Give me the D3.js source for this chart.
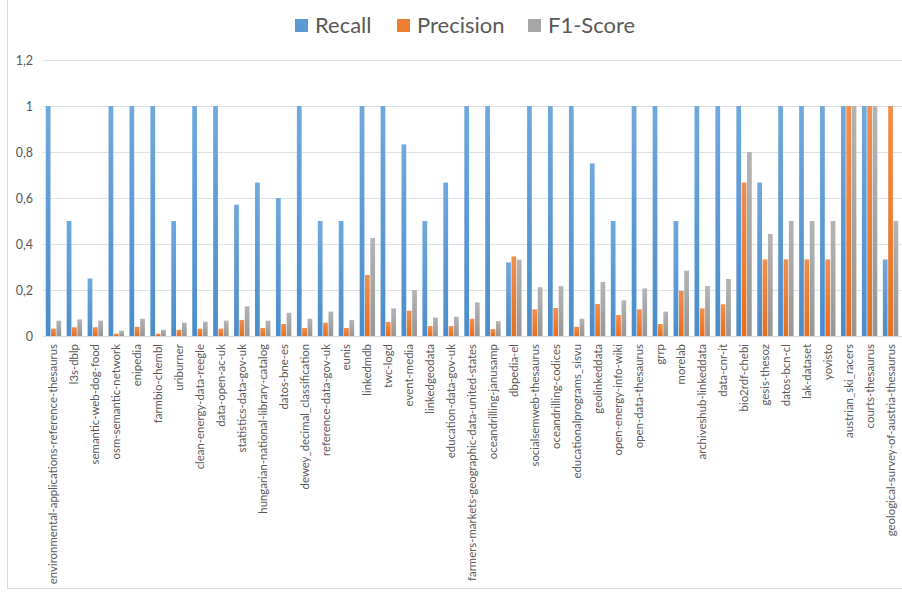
<!DOCTYPE html>
<html>
<head>
<meta charset="utf-8">
<script src="https://cdn.jsdelivr.net/npm/d3@7"></script>
<style>
  html, body { margin: 0; padding: 0; background: #fff; }
  svg { display: block; }
</style>
</head>
<body>
<svg id="chart" width="902" height="596"></svg>
<script>
const categories = [
  "environmental-applications-reference-thesaurus", "l3s-dblp", "semantic-web-dog-food",
  "osm-semantic-network", "enipedia", "farmbio-chembl", "uriburner", "clean-energy-data-reegle",
  "data-open-ac-uk", "statistics-data-gov-uk", "hungarian-national-library-catalog", "datos-bne-es",
  "dewey_decimal_classification", "reference-data-gov-uk", "eunis", "linkedmdb", "twc-logd",
  "event-media", "linkedgeodata", "education-data-gov-uk",
  "farmers-markets-geographic-data-united-states", "oceandrilling-janusamp", "dbpedia-el",
  "socialsemweb-thesaurus", "oceandrilling-codices", "educationalprograms_sisvu", "geolinkeddata",
  "open-energy-info-wiki", "open-data-thesaurus", "grrp", "morelab", "archiveshub-linkeddata",
  "data-cnr-it", "bio2rdf-chebi", "gesis-thesoz", "datos-bcn-cl", "lak-dataset", "yovisto",
  "austrian_ski_racers", "courts-thesaurus", "geological-survey-of-austria-thesaurus"
];
const seriesNames = ["Recall", "Precision", "F1-Score"];
const recall = [1, 0.5, 0.25, 1, 1, 1, 0.5, 1, 1, 0.571, 0.667, 0.6, 1, 0.5, 0.5, 1, 1, 0.833, 0.5, 0.667,
  1, 1, 0.32, 1, 1, 1, 0.75, 0.5, 1, 1, 0.5, 1, 1, 1, 0.667, 1, 1, 1, 1, 1, 0.333];
const precision = [0.032, 0.038, 0.038, 0.01, 0.04, 0.01, 0.027, 0.032, 0.032, 0.07, 0.035, 0.052, 0.035,
  0.058, 0.035, 0.265, 0.061, 0.11, 0.043, 0.043, 0.075, 0.03, 0.346, 0.116, 0.122, 0.04, 0.139,
  0.091, 0.116, 0.052, 0.196, 0.12, 0.138, 0.667, 0.333, 0.333, 0.333, 0.333, 1, 1, 1];
const f1 = [0.067, 0.072, 0.067, 0.023, 0.075, 0.027, 0.058, 0.062, 0.067, 0.129, 0.067, 0.101, 0.075,
  0.106, 0.07, 0.426, 0.12, 0.2, 0.08, 0.084, 0.146, 0.065, 0.332, 0.212, 0.217, 0.075, 0.235,
  0.155, 0.207, 0.106, 0.284, 0.217, 0.248, 0.8, 0.444, 0.5, 0.5, 0.5, 1, 1, 0.5];
const yTicks = [0, 0.2, 0.4, 0.6, 0.8, 1, 1.2];
const tickLabels = ["0", "0,2", "0,4", "0,6", "0,8", "1", "1,2"];
const seriesValues = [recall, precision, f1];

const colors = ["#5B9BD5", "#ED7D31", "#A5A5A5"];
const colorsTop = ["#6FA9DE", "#F28F4E", "#B4B4B4"];
const colorsBot = ["#4A8CCB", "#E56F1F", "#979797"];

const svg = d3.select("#chart");
const font = "Lato, 'Open Sans', sans-serif";

// outer chart border
svg.append("rect").attr("x", 7.5).attr("y", -5).attr("width", 1000).attr("height", 598.5 - 5)
  .attr("fill", "none").attr("stroke", "#D9D9D9").attr("stroke-width", 1);

const defs = svg.append("defs");
seriesNames.forEach((s, i) => {
  const g = defs.append("linearGradient").attr("id", "grad" + i)
    .attr("x1", 0).attr("y1", 0).attr("x2", 0).attr("y2", 1);
  g.append("stop").attr("offset", "0%").attr("stop-color", colorsTop[i]);
  g.append("stop").attr("offset", "100%").attr("stop-color", colorsBot[i]);
});

const y = d3.scaleLinear().domain([0, 1.2]).range([336, 60]);
const x0 = d3.scaleBand().domain(categories).range([43, 901]).paddingInner(0.235).paddingOuter(0.1175);
const x1 = d3.scaleBand().domain(seriesNames).range([0, x0.bandwidth()]);

// gridlines
svg.append("g").selectAll("line").data(yTicks).join("line")
  .attr("x1", 43).attr("x2", 902)
  .attr("y1", d => Math.round(y(d)) + 0.5).attr("y2", d => Math.round(y(d)) + 0.5)
  .attr("stroke", "#DCE1EA").attr("stroke-width", 1);

// y axis labels
const yAxis = d3.axisLeft(y).tickValues(yTicks).tickFormat((d, i) => tickLabels[i]).tickSize(0).tickPadding(0);
const yg = svg.append("g").attr("transform", "translate(33,0)").call(yAxis);
yg.select(".domain").remove();
yg.selectAll("text").attr("font-family", font).attr("font-size", 12.5).attr("fill", "#595959");

// bars
const groups = svg.append("g").selectAll("g").data(categories).join("g")
  .attr("transform", d => `translate(${x0(d)},0)`);
groups.selectAll("rect").data((d, ci) => seriesNames.map((s, si) => ({ s, si, v: seriesValues[si][ci] })))
  .join("rect")
  .attr("x", d => x1(d.s) + 0.3)
  .attr("width", x1.bandwidth() - 0.6)
  .attr("y", d => y(d.v))
  .attr("height", d => y(0) - y(d.v))
  .attr("fill", d => `url(#grad${d.si})`);

// baseline
svg.append("line").attr("x1", 43).attr("x2", 902).attr("y1", 336.5).attr("y2", 336.5)
  .attr("stroke", "#D9D9D9");

// x labels
const xAxis = d3.axisBottom(x0).tickSize(0).tickPadding(0);
const xg = svg.append("g").attr("transform", "translate(0,336)").call(xAxis);
xg.select(".domain").remove();
xg.selectAll("text")
  .attr("font-family", font).attr("font-size", 11.4).attr("fill", "#595959")
  .attr("transform", "rotate(-90)")
  .attr("text-anchor", "end")
  .attr("dy", "0.35em")
  .attr("x", -8).attr("y", 0);

// legend
const legendItems = [
  { name: "Recall", sx: 295, tx: 315 },
  { name: "Precision", sx: 397, tx: 417 },
  { name: "F1-Score", sx: 528, tx: 548 }
];
const lg = svg.append("g");
legendItems.forEach((it, i) => {
  lg.append("rect").attr("x", it.sx).attr("y", 19).attr("width", 13).attr("height", 13).attr("fill", colors[i]);
  lg.append("text").attr("x", it.tx).attr("y", 33).text(it.name)
    .attr("font-family", font).attr("font-size", 22).attr("fill", "#595959");
});
</script>
</body>
</html>
